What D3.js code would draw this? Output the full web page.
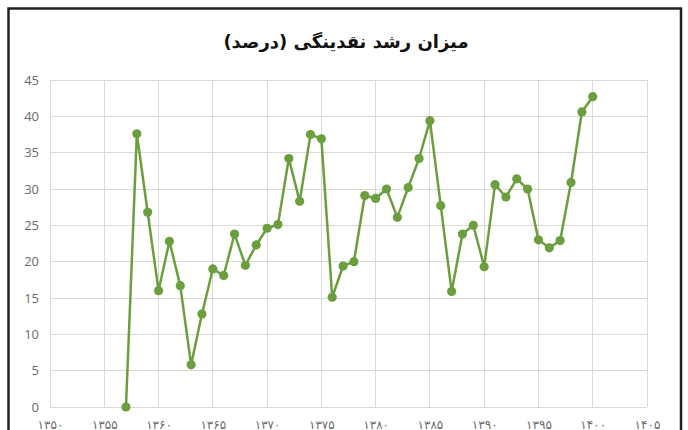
<!DOCTYPE html>
<meta charset="utf-8">
<style>

body {
  margin: 0;
  background: #fff;
}

.grid line {
  stroke: #d9d9d9;
  stroke-width: 1;
  shape-rendering: crispEdges;
}

.axis path,
.axis line {
  display: none;
}

.y.axis text {
  font: 13px "Open Sans", sans-serif;
  fill: #6b6b6b;
}

.x.axis text {
  font: 12px "DejaVu Sans", sans-serif;
  fill: #6b6b6b;
}

.title {
  font: bold 18px "DejaVu Sans", sans-serif;
  fill: #111;
}

</style>
<body>
<script src="https://cdnjs.cloudflare.com/ajax/libs/d3/7.8.5/d3.min.js"></script>
<script>

var years = [1357, 1358, 1359, 1360, 1361, 1362, 1363, 1364, 1365, 1366, 1367,
             1368, 1369, 1370, 1371, 1372, 1373, 1374, 1375, 1376, 1377, 1378,
             1379, 1380, 1381, 1382, 1383, 1384, 1385, 1386, 1387, 1388, 1389,
             1390, 1391, 1392, 1393, 1394, 1395, 1396, 1397, 1398, 1399, 1400];

var growth = [0, 37.6, 26.8, 16.0, 22.8, 16.7, 5.8, 12.8, 19.0, 18.1, 23.8,
              19.5, 22.3, 24.6, 25.1, 34.2, 28.3, 37.5, 36.9, 15.1, 19.4, 20.0,
              29.1, 28.7, 30.0, 26.1, 30.2, 34.2, 39.4, 27.7, 15.9, 23.8, 25.0,
              19.3, 30.6, 28.9, 31.4, 30.0, 23.0, 21.9, 22.9, 30.9, 40.6, 42.7];

var xTicks = [1350, 1355, 1360, 1365, 1370, 1375, 1380, 1385, 1390, 1395, 1400, 1405];
var xTickLabels = ["۱۳۵۰", "۱۳۵۵", "۱۳۶۰", "۱۳۶۵", "۱۳۷۰", "۱۳۷۵",
                   "۱۳۸۰", "۱۳۸۵", "۱۳۹۰", "۱۳۹۵", "۱۴۰۰", "۱۴۰۵"];
var yTicks = [0, 5, 10, 15, 20, 25, 30, 35, 40, 45];

var title = "میزان رشد نقدینگی (درصد)";

var width = 688, height = 430;
var plot = {left: 50, right: 647, top: 80, bottom: 407};
var green = "#6b9f3e";

var svg = d3.select("body").append("svg")
    .attr("width", width)
    .attr("height", height);

// chart frame
svg.append("rect")
    .attr("x", 8.5)
    .attr("y", 8.5)
    .attr("width", 672.5)
    .attr("height", 440)
    .attr("fill", "#fff")
    .attr("stroke", "#222")
    .attr("stroke-width", 2.5);

var x = d3.scaleLinear()
    .domain([1350, 1405])
    .range([plot.left, plot.right]);

var y = d3.scaleLinear()
    .domain([0, 45])
    .range([plot.bottom, plot.top]);

svg.append("text")
    .attr("class", "title")
    .attr("x", 346)
    .attr("y", 48)
    .attr("text-anchor", "middle")
    .attr("direction", "rtl")
    .text(title);

// gridlines
var grid = svg.append("g").attr("class", "grid");

grid.selectAll(".hgrid")
    .data(yTicks)
  .enter().append("line")
    .attr("x1", plot.left)
    .attr("x2", plot.right)
    .attr("y1", function(d) { return y(d); })
    .attr("y2", function(d) { return y(d); });

grid.selectAll(".vgrid")
    .data(xTicks)
  .enter().append("line")
    .attr("x1", function(d) { return x(d); })
    .attr("x2", function(d) { return x(d); })
    .attr("y1", plot.top)
    .attr("y2", plot.bottom);

var yAxis = d3.axisLeft(y)
    .tickValues(yTicks)
    .tickSize(0)
    .tickPadding(11);

svg.append("g")
    .attr("class", "y axis")
    .attr("transform", "translate(" + plot.left + ",0)")
    .call(yAxis);

var xAxis = d3.axisBottom(x)
    .tickValues(xTicks)
    .tickSize(0)
    .tickPadding(13)
    .tickFormat(function(d, i) { return xTickLabels[i]; });

svg.append("g")
    .attr("class", "x axis")
    .attr("transform", "translate(0," + plot.bottom + ")")
    .call(xAxis);

var data = years.map(function(yr, i) { return {year: yr, value: growth[i]}; });

var line = d3.line()
    .x(function(d) { return x(d.year); })
    .y(function(d) { return y(d.value); });

svg.append("path")
    .datum(data)
    .attr("fill", "none")
    .attr("stroke", green)
    .attr("stroke-width", 2.5)
    .attr("stroke-linejoin", "round")
    .attr("d", line);

svg.selectAll(".dot")
    .data(data)
  .enter().append("circle")
    .attr("class", "dot")
    .attr("r", 4.6)
    .attr("cx", function(d) { return x(d.year); })
    .attr("cy", function(d) { return y(d.value); })
    .attr("fill", green);

</script>
